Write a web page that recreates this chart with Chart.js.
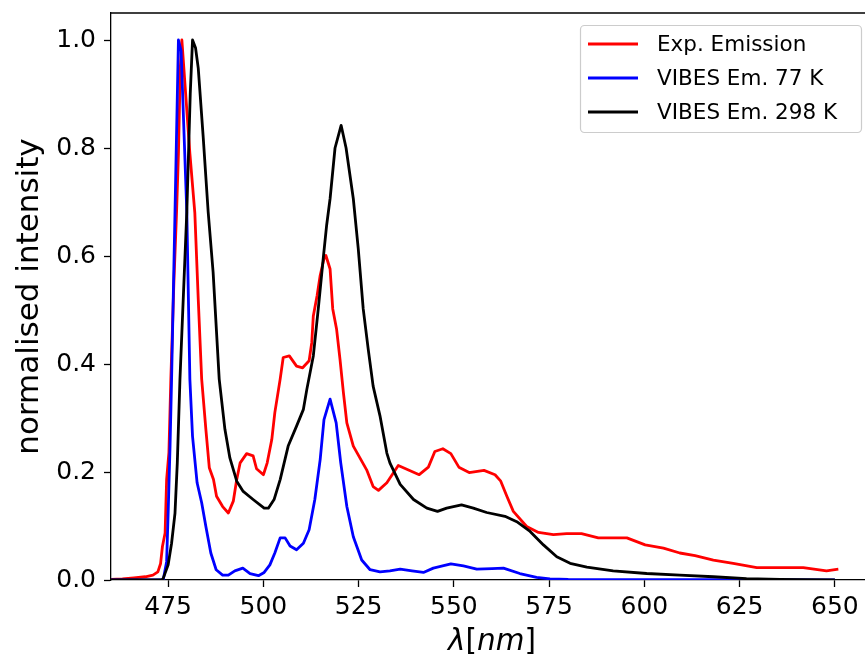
<!DOCTYPE html>
<html>
<head>
<meta charset="utf-8">
<script src="https://cdn.jsdelivr.net/npm/chart.js@4.4.1/dist/chart.umd.min.js"></script>
<style>
  html, body { margin: 0; padding: 0; background: #fff; overflow: hidden; }
  canvas { display: block; }
</style>
</head>
<body>
<canvas id="spectra" width="873" height="659"></canvas>
<script>
// measured emission spectrum
const expX = [460, 463, 466, 469, 471, 472.3, 473, 473.5, 474.2, 474.6, 475.2, 475.7, 476.5, 477.2, 477.7, 478.2, 478.6, 479.3, 480.7, 482.0, 482.9, 483.8, 484.9, 485.8, 486.9, 487.7, 489.3, 490.8, 492.1, 493.0, 493.9, 495.6, 497.3, 498.2, 500.0, 501.0, 502.2, 503.0, 504.4, 505.2, 506.8, 508.7, 510.3, 512.0, 512.7, 513.1, 514.1, 514.9, 515.9, 516.4, 517.5, 518.2, 519.2, 520.1, 521.0, 521.9, 523.6, 527.1, 528.8, 530.2, 532.4, 535.4, 540.9, 543.3, 545.0, 547.1, 549.2, 551.3, 554.0, 557.9, 560.8, 562.3, 563.9, 565.6, 569.1, 572.2, 576.1, 579.6, 583.5, 587.9, 595.4, 600.2, 605.0, 609.3, 613.3, 618.1, 623.3, 629.5, 635.6, 641.7, 647.8, 650.9];
const expY = [0.001, 0.002, 0.004, 0.006, 0.009, 0.015, 0.03, 0.062, 0.087, 0.186, 0.236, 0.37, 0.55, 0.68, 0.79, 0.95, 1.0, 0.93, 0.79, 0.68, 0.52, 0.372, 0.279, 0.208, 0.186, 0.155, 0.136, 0.124, 0.146, 0.186, 0.217, 0.234, 0.23, 0.206, 0.195, 0.217, 0.26, 0.31, 0.372, 0.412, 0.415, 0.396, 0.393, 0.406, 0.44, 0.489, 0.527, 0.564, 0.595, 0.601, 0.576, 0.502, 0.465, 0.409, 0.347, 0.291, 0.248, 0.204, 0.173, 0.166, 0.18, 0.212, 0.195, 0.209, 0.238, 0.243, 0.234, 0.209, 0.199, 0.203, 0.195, 0.183, 0.155, 0.127, 0.099, 0.088, 0.084, 0.086, 0.086, 0.078, 0.078, 0.065, 0.059, 0.05, 0.045, 0.037, 0.031, 0.023, 0.023, 0.023, 0.017, 0.02];

// simulated emission, 77 K
const vib77X = [460, 473.7, 474.6, 475.0, 475.5, 475.9, 476.8, 477.7, 478.4, 479.9, 480.7, 481.4, 482.6, 483.8, 484.9, 486.2, 487.6, 489.3, 490.8, 492.5, 494.6, 496.5, 498.7, 500.2, 501.7, 503.0, 504.4, 505.7, 507.0, 508.7, 510.5, 512.0, 513.5, 514.9, 515.9, 517.5, 519.1, 520.3, 521.9, 523.6, 525.8, 528.0, 530.6, 533.2, 535.9, 539.0, 542.0, 544.6, 549.2, 552.5, 556.0, 560.0, 563.0, 567.3, 571.7, 575.2, 580, 650];
const vib77Y = [0, 0, 0.034, 0.124, 0.248, 0.372, 0.682, 1.0, 0.98, 0.682, 0.372, 0.266, 0.18, 0.143, 0.099, 0.05, 0.019, 0.009, 0.009, 0.017, 0.022, 0.012, 0.008, 0.014, 0.028, 0.05, 0.078, 0.078, 0.063, 0.056, 0.068, 0.093, 0.149, 0.223, 0.297, 0.335, 0.291, 0.217, 0.136, 0.08, 0.037, 0.019, 0.015, 0.017, 0.02, 0.017, 0.014, 0.022, 0.03, 0.026, 0.02, 0.021, 0.022, 0.012, 0.005, 0.002, 0.001, 0];

// simulated emission, 298 K
const vib298X = [460, 473.3, 473.7, 475.0, 475.9, 476.8, 477.4, 478.1, 479.9, 480.8, 481.4, 482.2, 482.9, 484.2, 485.5, 486.8, 488.4, 489.9, 491.2, 493.0, 494.7, 497.3, 500.2, 501.3, 502.8, 504.4, 506.5, 508.7, 510.5, 511.4, 513.1, 514.4, 515.7, 516.6, 517.5, 518.8, 520.4, 521.7, 523.6, 524.9, 526.2, 527.5, 528.8, 530.6, 532.4, 533.2, 535.9, 539.4, 542.9, 545.7, 548.1, 552.0, 555.1, 558.6, 563.4, 566.5, 570.0, 573.5, 577.0, 580.5, 584.9, 591.8, 600.6, 609.3, 618.1, 626.8, 635.6, 650];
const vib298Y = [0, 0, 0.003, 0.028, 0.068, 0.124, 0.217, 0.372, 0.682, 0.9, 1.0, 0.985, 0.948, 0.82, 0.682, 0.57, 0.372, 0.279, 0.226, 0.183, 0.164, 0.149, 0.133, 0.133, 0.149, 0.186, 0.248, 0.285, 0.316, 0.353, 0.415, 0.502, 0.595, 0.657, 0.706, 0.8, 0.842, 0.8, 0.706, 0.613, 0.502, 0.428, 0.359, 0.304, 0.235, 0.217, 0.177, 0.149, 0.133, 0.127, 0.133, 0.139, 0.133, 0.125, 0.118, 0.108, 0.09, 0.065, 0.043, 0.031, 0.024, 0.017, 0.012, 0.009, 0.006, 0.0025, 0.001, 0];

const seriesLabels = ['Exp. Emission', 'VIBES Em. 77 K', 'VIBES Em. 298 K'];
const seriesColors = ['#ff0000', '#0000ff', '#000000'];
const xTicks = [475, 500, 525, 550, 575, 600, 625, 650];
const yTicks = [0, 0.2, 0.4, 0.6, 0.8, 1.0];

const FONT = "'DejaVu Sans', sans-serif";

const toPoints = (xs, ys) => xs.map((x, i) => ({ x: x, y: ys[i] }));

const lineSet = (i, xs, ys) => ({
  label: seriesLabels[i],
  data: toPoints(xs, ys),
  borderColor: seriesColors[i],
  backgroundColor: seriesColors[i],
  borderWidth: 2.8,
  borderJoinStyle: 'round',
  pointRadius: 0,
  tension: 0,
  fill: false,
  order: 2 - i,
});

// frame, axis titles and the boxed legend
const decorations = {
  id: 'decorations',
  afterDraw(chart) {
    const { ctx, chartArea: a } = chart;
    ctx.save();
    ctx.strokeStyle = '#000';
    ctx.lineWidth = 1.3;
    ctx.beginPath();
    ctx.moveTo(a.left, a.top);
    ctx.lineTo(a.right, a.top);
    ctx.lineTo(a.right, a.bottom);
    ctx.stroke();

    // y title
    ctx.fillStyle = '#000';
    ctx.font = '31px ' + FONT;
    ctx.textAlign = 'center';
    ctx.textBaseline = 'middle';
    ctx.translate(30, (a.top + a.bottom) / 2);
    ctx.rotate(-Math.PI / 2);
    ctx.fillText('normalised intensity', 0, 0);
    ctx.setTransform(1, 0, 0, 1, 0, 0);

    // x title: italic symbols, upright brackets
    const parts = [['λ', 'italic'], ['[', 'normal'], ['nm', 'italic'], [']', 'normal']];
    const xs = '29.5px ';
    let total = 0;
    parts.forEach(p => {
      ctx.font = p[1] + ' ' + xs + FONT;
      total += ctx.measureText(p[0]).width;
    });
    let x = (a.left + a.right) / 2 - total / 2;
    ctx.textAlign = 'left';
    ctx.textBaseline = 'alphabetic';
    parts.forEach(p => {
      ctx.font = p[1] + ' ' + xs + FONT;
      ctx.fillText(p[0], x, 650);
      x += ctx.measureText(p[0]).width;
    });

    // legend
    const bx = 580.5, by = 25.5, bw = 281, bh = 107, r = 4;
    ctx.beginPath();
    ctx.roundRect(bx, by, bw, bh, r);
    ctx.fillStyle = 'rgba(255,255,255,0.8)';
    ctx.fill();
    ctx.strokeStyle = '#cccccc';
    ctx.lineWidth = 1.2;
    ctx.stroke();
    ctx.font = '21.5px ' + FONT;
    ctx.textBaseline = 'middle';
    seriesLabels.forEach((lab, i) => {
      const ly = 44 + i * 34;
      ctx.strokeStyle = seriesColors[i];
      ctx.lineWidth = 2.8;
      ctx.beginPath();
      ctx.moveTo(588, ly);
      ctx.lineTo(638, ly);
      ctx.stroke();
      ctx.fillStyle = '#000';
      ctx.fillText(lab, 657, ly + 1);
    });
    ctx.restore();
  },
};

const tickFont = { family: FONT, size: 25 };

new Chart(document.getElementById('spectra'), {
  type: 'line',
  data: {
    datasets: [
      lineSet(0, expX, expY),
      lineSet(1, vib77X, vib77Y),
      lineSet(2, vib298X, vib298Y),
    ],
  },
  options: {
    responsive: false,
    animation: false,
    devicePixelRatio: 1,
    layout: { padding: { top: 13, right: 0, left: 0, bottom: 0 } },
    plugins: {
      legend: { display: false },
      tooltip: { enabled: false },
    },
    scales: {
      x: {
        type: 'linear',
        min: 460,
        max: 660,
        afterBuildTicks: s => { s.ticks = xTicks.map(v => ({ value: v })); },
        afterFit: s => { s.height = 79; s.paddingLeft = 0; s.paddingRight = 0; },
        ticks: {
          color: '#000',
          font: tickFont,
          padding: 5,
          maxRotation: 0,
          autoSkip: false,
          callback: v => String(v),
        },
        grid: {
          drawOnChartArea: false,
          drawTicks: true,
          tickLength: 7,
          tickWidth: 1.3,
          tickColor: '#000',
        },
        border: { display: true, color: '#000', width: 1.3 },
      },
      y: {
        type: 'linear',
        min: 0,
        max: 1.05,
        afterBuildTicks: s => { s.ticks = yTicks.map(v => ({ value: v })); },
        afterFit: s => { s.width = 111; s.paddingTop = 0; s.paddingBottom = 0; },
        ticks: {
          color: '#000',
          font: tickFont,
          padding: 8,
          autoSkip: false,
          callback: v => v.toFixed(1),
        },
        grid: {
          drawOnChartArea: false,
          drawTicks: true,
          tickLength: 7,
          tickWidth: 1.3,
          tickColor: '#000',
        },
        border: { display: true, color: '#000', width: 1.3 },
      },
    },
  },
  plugins: [decorations],
});
</script>
</body>
</html>
